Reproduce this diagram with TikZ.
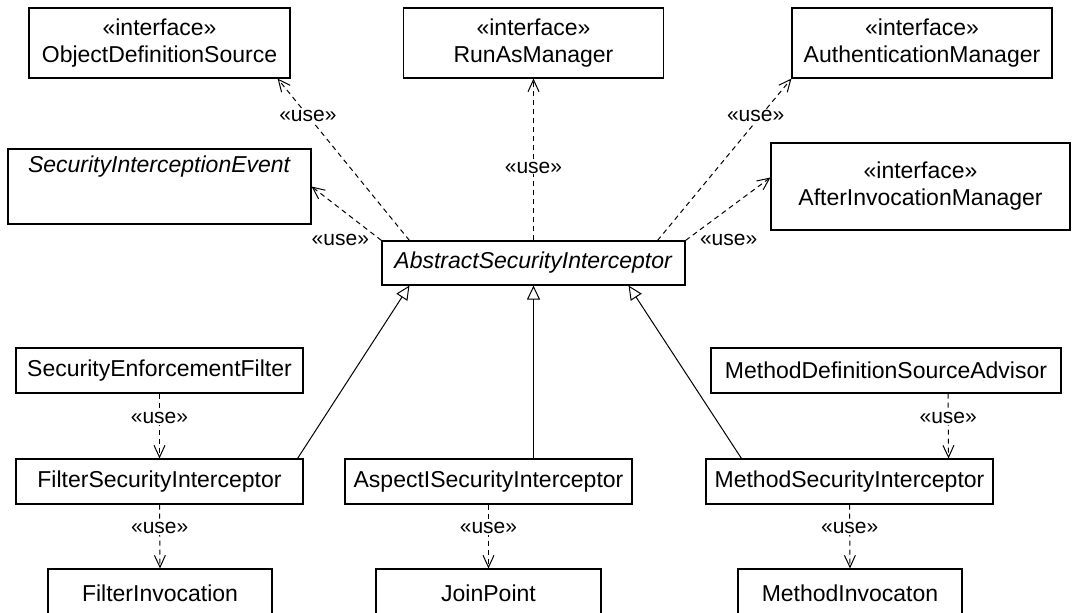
\documentclass[tikz,border=0pt]{standalone}
\usepackage{fontspec}
\setmainfont{Liberation Sans}
\usetikzlibrary{arrows.meta}

\begin{document}
\begin{tikzpicture}[x=1pt,y=-1pt]
   \tikzstyle{every node}=[font=\fontsize{23}{27}\selectfont]
   \tikzstyle{klass}=[draw, line width=1.1pt, inner sep=0pt, align=center, minimum height=45pt]
   \tikzstyle{use}=[line width=1pt, dash pattern=on 5pt off 4pt, -{Straight Barb[length=12pt,width=11pt]}]
   \tikzstyle{inherit}=[line width=1pt, -{Triangle[open,length=14pt,width=13pt]}]
   \tikzstyle{uselabel}=[fill=white, inner sep=1pt, font=\fontsize{21}{25}\selectfont]

   \useasboundingbox (0,0) rectangle (1072,613);
   \clip (0,0) rectangle (1072,613);

   % interfaces on top
   \node[klass, minimum width=261pt, minimum height=70pt] (ODS) at (159.5,43) {«interface»\\ObjectDefinitionSource};
   \node[klass, minimum width=260pt, minimum height=70pt] (RAM) at (533.5,43) {«interface»\\RunAsManager};
   \node[klass, minimum width=260pt, minimum height=70pt] (AM) at (922,43) {«interface»\\AuthenticationManager};
   \node[klass, minimum width=303pt, text height=23pt, text depth=52pt] (SIE) at (159.5,186.5) {\textit{SecurityInterceptionEvent}};
   \node[klass, minimum width=299pt, minimum height=87pt] (AIM) at (920.5,186.5) {«interface»\\AfterInvocationManager};

   \node[klass, minimum width=303pt, minimum height=44pt] (ASI) at (533.5,263) {\textit{AbstractSecurityInterceptor}};

   \draw[use] ([xshift=28pt]ASI.north west) -- ([xshift=-13pt]ODS.south east)
      node[uselabel, pos=0.77] (odsuse) {«use»};
   \draw[use] (ASI.north west) -- (SIE.east)
      node[uselabel, at start, anchor=east, xshift=-11pt] (sieuse) {«use»};
   \draw[use] (ASI.north) -- (RAM.south)
      node[uselabel, pos=0.45] (ramuse) {«use»};
   \draw[use] ([xshift=-28pt]ASI.north east) -- (AM.south west)
      node[uselabel, pos=0.77, xshift=-5pt] (amuse) {«use»};
   \draw[use] (ASI.north east) -- ([yshift=9pt]AIM.west)
      node[uselabel, at start, anchor=west, xshift=13pt] (aimuse) {«use»};

   % interceptors
   \node[klass, minimum width=287pt] (SEF) at (159.5,370.5) {SecurityEnforcementFilter};
   \node[klass, minimum width=350pt] (MDSA) at (886,370.5) {MethodDefinitionSourceAdvisor};
   \node[klass, minimum width=287pt] (FSI) at (159.5,481.5) {FilterSecurityInterceptor};
   \node[klass, minimum width=287pt] (ASP) at (488.5,481.5) {AspectISecurityInterceptor};
   \node[klass, minimum width=287pt] (MSI) at (849.5,481.5) {MethodSecurityInterceptor};

   \draw[inherit] ([xshift=-6pt]FSI.north east) -- ([xshift=28pt]ASI.south west);
   \draw[inherit] (ASI.south |- ASP.north) -- (ASI.south);
   \draw[inherit] ([xshift=36pt]MSI.north west) -- ([xshift=-57pt]ASI.south east);

   \node[klass, minimum width=224pt, minimum height=48pt] (FI) at (160,593) {FilterInvocation};
   \node[klass, minimum width=225pt, minimum height=48pt] (JP) at (488.5,593) {JoinPoint};
   \node[klass, minimum width=224pt, minimum height=48pt] (MI) at (850,593) {MethodInvocaton};

   \draw[use] (SEF.south) -- (FSI.north) node[uselabel, pos=0.38] (sefuse) {«use»};
   \draw[use] ([xshift=62pt]MDSA.south) -- ([xshift=-45pt]MSI.north east) node[uselabel, pos=0.38] (mdsause) {«use»};
   \draw[use] (FSI.south) -- (FI.north) node[uselabel, pos=0.37] (fsiuse) {«use»};
   \draw[use] (ASP.south) -- (JP.north) node[uselabel, pos=0.37] (aspuse) {«use»};
   \draw[use] (MSI.south) -- (MI.north) node[uselabel, pos=0.37] (msiuse) {«use»};
\end{tikzpicture}
\end{document}
